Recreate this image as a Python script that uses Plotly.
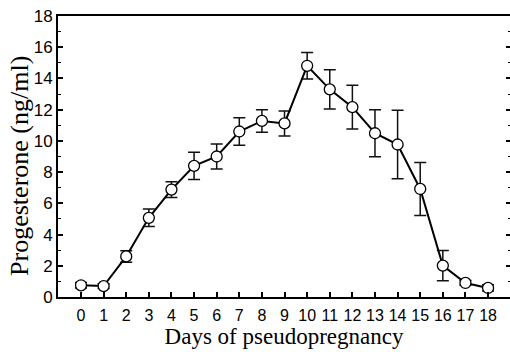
import plotly.graph_objects as go

# Serum progesterone over the days of pseudopregnancy (mean ± SEM)
days = list(range(19))
progesterone = [0.75, 0.7, 2.6, 5.07, 6.88, 8.4, 9.0, 10.6, 11.28, 11.12,
                14.81, 13.3, 12.16, 10.49, 9.77, 6.92, 2.01, 0.9, 0.58]
sem = [0.18, 0.15, 0.37, 0.56, 0.5, 0.88, 0.8, 0.88, 0.72, 0.8,
       0.85, 1.25, 1.4, 1.5, 2.2, 1.7, 0.97, 0.15, 0.2]

x_ticks = list(range(19))
y_ticks = list(range(0, 19, 2))

SANS = "Liberation Sans, Arial, sans-serif"
SERIF = "Liberation Serif, Times New Roman, serif"

fig = go.Figure()
fig.add_trace(go.Scatter(
    x=days, y=progesterone,
    mode="lines+markers",
    line=dict(color="black", width=2),
    marker=dict(symbol="circle", size=11, color="white",
                line=dict(color="black", width=1.3)),
    error_y=dict(type="data", array=sem, visible=True,
                 color="#111111", thickness=1.5, width=6),
    showlegend=False,
))
# right-hand tick marks only (no visible right spine)
fig.add_trace(go.Scatter(x=[days[0]], y=[progesterone[0]], yaxis="y2",
                         mode="markers", marker=dict(opacity=0),
                         hoverinfo="skip", showlegend=False))

fig.update_layout(
    width=510, height=352,
    margin=dict(l=58, r=0, t=16, b=55),
    plot_bgcolor="white", paper_bgcolor="white",
    font=dict(family=SANS, color="black"),
    yaxis2=dict(
        overlaying="y", side="right", range=[0, 18],
        tickvals=y_ticks, showticklabels=False,
        ticks="inside", ticklen=4, tickwidth=1.5, tickcolor="black",
        minor=dict(dtick=1, tick0=0, ticks="inside", ticklen=2.5,
                   tickwidth=1, tickcolor="black"),
        showline=False, showgrid=False, zeroline=False,
    ),
    annotations=[dict(
        text="Progesterone (ng/ml)", textangle=-90,
        xref="paper", yref="paper", x=-0.085, y=0.465,
        xanchor="center", yanchor="middle", showarrow=False,
        font=dict(size=26, family=SERIF, color="black"),
    )],
)
fig.update_xaxes(
    range=[-1.017, 18.97],
    tickvals=x_ticks, ticktext=[str(v) for v in x_ticks],
    ticks="inside", ticklen=5, tickwidth=1.5, tickcolor="black",
    ticklabelstandoff=3,
    tickfont=dict(size=16, family=SANS),
    showline=True, linecolor="black", linewidth=2, mirror=True,
    showgrid=False, zeroline=False,
    title=dict(text="Days of pseudopregnancy", standoff=4,
               font=dict(size=23, family=SERIF)),
)
fig.update_yaxes(
    selector=dict(overlaying=None),
    range=[0, 18],
    tickvals=y_ticks, ticktext=[str(v) for v in y_ticks],
    ticks="inside", ticklen=5, tickwidth=1.5, tickcolor="black",
    minor=dict(dtick=1, tick0=0, ticks="inside", ticklen=3, tickwidth=1, tickcolor="black"),
    tickfont=dict(size=17, family=SANS),
    showline=True, linecolor="black", linewidth=2, mirror=False,
    showgrid=False, zeroline=False,
)

fig.write_html("out.html")
